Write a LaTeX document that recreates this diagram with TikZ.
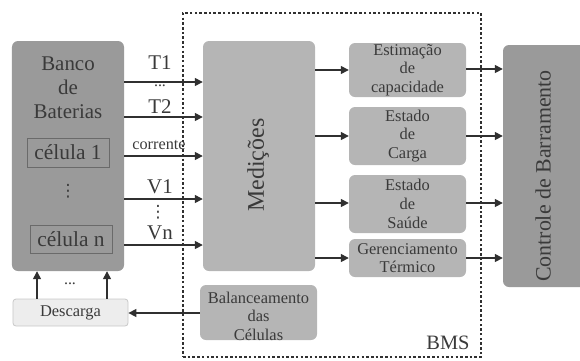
\documentclass[tikz,border=0pt]{standalone}
\usepackage{fontspec}
\setmainfont{Liberation Serif}
\newfontfamily\dotfont{DejaVu Sans}
\usetikzlibrary{arrows.meta}
\definecolor{dk}{HTML}{9A9A9A}
\definecolor{lt}{HTML}{B5B5B5}
\definecolor{txt}{HTML}{3A3A3A}
\definecolor{arrc}{HTML}{303030}
\definecolor{cellb}{HTML}{6A6A6A}
\definecolor{dsf}{HTML}{EDEDED}
\definecolor{dsb}{HTML}{C8C8C8}
\newcommand\fsz[2]{\fontsize{#1}{#2}\selectfont}
\begin{document}
\begin{tikzpicture}[x=1bp,y=-1bp,
  box/.style={rounded corners=6bp, inner sep=0pt, text=txt},
  darkbox/.style={box, fill=dk},
  lightbox/.style={box, fill=lt, align=center, font=\fsz{16.5}{18.8}},
  cellbox/.style={draw=cellb, line width=0.8bp, fill=dk, inner sep=0pt, text=txt, font=\fsz{21.5}{22}},
  arr/.style={draw=arrc, line width=1.4bp, -{Triangle[length=8bp,width=8bp]}},
  lbl/.style={text=txt, inner sep=0pt},
  bmsbox/.style={draw=arrc, line width=1.6bp, dash pattern=on 2.5bp off 2.2bp, inner sep=0pt}]
\useasboundingbox (0,0) rectangle (580,360);
\begin{scope}
\clip (0,0) rectangle (580,360);
% BMS dotted frame
\node[bmsbox, minimum width=298bp, minimum height=344bp] (bms) at (332,185) {};
\node[lbl, font=\fsz{20.5}{21}] (bmstxt) at (448,343) {BMS};
% battery bank
\node[darkbox, minimum width=112bp, minimum height=230bp] (banco) at (68,156) {};
\node[lbl, font=\fsz{21}{24}, align=center] (bancotxt) at (68,88) {Banco\\de\\Baterias};
\node[cellbox, minimum width=82bp, minimum height=29bp] (c1) at (68,152.5) {célula 1};
\node[lbl, font=\dotfont\fsz{17}{17}] (cdots) at (68,191) {⋮};
\node[cellbox, minimum width=82bp, minimum height=28bp] (cn) at (71,239) {célula n};
% measurements
\node[darkbox, fill=lt, minimum width=112bp, minimum height=230bp] (med) at (259,156) {};
\node[lbl, rotate=90, font=\fsz{24}{24}] (medtxt) at (258,165) {Medições};
% estimation boxes
\node[lightbox, minimum width=117bp, minimum height=54bp] (est) at (407.5,70) {Estimação\\de\\capacidade};
\node[lightbox, minimum width=117bp, minimum height=58bp] (soc) at (407.5,136) {Estado\\de\\Carga};
\node[lightbox, minimum width=117bp, minimum height=58bp] (soh) at (407.5,204) {Estado\\de\\Saúde};
\node[lightbox, minimum width=117bp, minimum height=38bp] (ger) at (407.5,258) {Gerenciamento\\Térmico};
% bus control
\node[darkbox, minimum width=90bp, minimum height=242bp] (ctrl) at (548,166) {};
\node[lbl, rotate=90, font=\fsz{22}{22}] (ctrltxt) at (543,176) {Controle de Barramento};
% discharge and balancing
\node[box, rounded corners=3bp, fill=dsf, draw=dsb, line width=0.8bp, minimum width=115bp, minimum height=27bp, font=\fsz{16.5}{17}] (desc) at (70.5,312.5) {Descarga};
\node[lightbox, minimum width=117bp, minimum height=55bp] (bal) at (258.5,312.5) {};
\node[lbl, align=center, font=\fsz{16.5}{18.7}] (baltxt) at (258.5,316) {Balanceamento\\das\\Células};
% arrows bank -> measurements
\foreach \yy in {82,117,156,199,245}
  \draw[arr] (banco.east |- 0,\yy) -- (med.west |- 0,\yy);
\node[lbl, font=\fsz{21}{21}] (t1) at (160,63) {T1};
\node[lbl, font=\fsz{16}{16}] (tdots) at (160,86) {...};
\node[lbl, font=\fsz{21}{21}] (t2) at (160,107) {T2};
\node[lbl, font=\fsz{16.3}{16}] (corr) at (159,145) {corrente};
\node[lbl, font=\fsz{21}{21}] (v1) at (160,187) {V1};
\node[lbl, font=\dotfont\fsz{17}{17}] (vdots) at (158,212) {⋮};
\node[lbl, font=\fsz{21}{21}] (vn) at (160,233) {Vn};
% measurements -> boxes
\draw[arr] (med.east |- est) -- (est.west);
\draw[arr] (med.east |- soc) -- (soc.west);
\draw[arr] (med.east |- 0,203) -- (soh.west |- 0,203);
\draw[arr] (med.east |- ger) -- (ger.west);
% boxes -> control
\draw[arr] (est.east |- 0,69) -- (ctrl.west |- 0,69);
\draw[arr] (soc.east) -- (ctrl.west |- soc);
\draw[arr] (soh.east |- 0,203) -- (ctrl.west |- 0,203);
\draw[arr] (ger.east) -- (ctrl.west |- ger);
% balancing -> discharge -> bank
\draw[arr] (bal.west |- 0,313) -- (desc.east |- 0,313);
\draw[arr] (desc.north -| 37,0) -- (banco.south -| 37,0);
\draw[arr] (desc.north -| 107,0) -- (banco.south -| 107,0);
\node[lbl, font=\fsz{16}{16}] (ddots) at (70,284) {...};
\end{scope}
\end{tikzpicture}
\end{document}
